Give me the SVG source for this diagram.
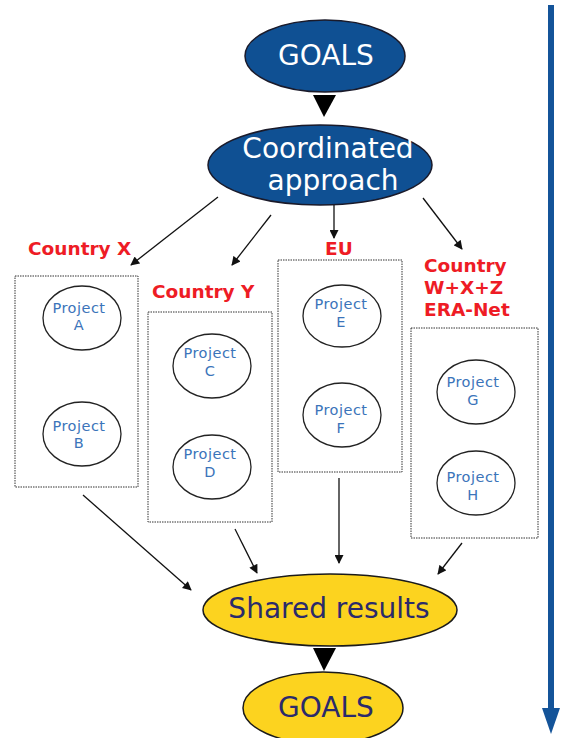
<svg xmlns="http://www.w3.org/2000/svg" width="561" height="738" viewBox="0 0 561 738">
<style>
.blue{fill:#0f5093;stroke:#1a1a2a;stroke-width:1.5}
.yel{fill:#fcd31f;stroke:#1a1a1a;stroke-width:1.5}
.big{font-family:"DejaVu Sans",Verdana,sans-serif;font-size:28px;text-anchor:middle}
.wt{fill:#ffffff}
.nv{fill:#2b2a6b}
.box{fill:#ffffff;stroke:#333;stroke-width:1;stroke-dasharray:1.5 1}
.proj{fill:#ffffff;stroke:#222;stroke-width:1.3}
.pt{font-family:"DejaVu Sans",Verdana,sans-serif;font-size:14.5px;letter-spacing:0.5px;fill:#3b74ba;text-anchor:middle}
.lbl{font-family:"DejaVu Sans",Verdana,sans-serif;font-size:18.5px;font-weight:bold;fill:#ee1c25}
.con{stroke:#111;stroke-width:1.3;fill:none;marker-end:url(#ah)}
</style>
<defs>
<marker id="ah" viewBox="0 0 10 10" refX="9" refY="5" markerWidth="10" markerHeight="9" markerUnits="userSpaceOnUse" orient="auto">
<path d="M0,0 L10,5 L0,10 z" fill="#111"/>
</marker>
</defs>
<rect width="561" height="738" fill="#ffffff"/>

<g id="timeline">
<rect x="548" y="5" width="6" height="706" fill="#145499"/>
<path d="M542,708 L560,708 L551,734 z" fill="#145499"/>
</g>

<g id="goals-top">
<ellipse class="blue" cx="325" cy="56" rx="80" ry="36"/>
<text class="big wt" x="326" y="65">GOALS</text>
</g>
<g id="tri1"><path d="M313,95 L336,95 L324,117 z" fill="#000"/></g>

<g id="coordinated">
<ellipse class="blue" cx="320" cy="165" rx="112" ry="40"/>
<text class="big wt" x="328" y="158">Coordinated</text>
<text class="big wt" x="333" y="190">approach</text>
</g>

<g id="country-x">
<text class="lbl" x="28" y="255">Country X</text>
<rect class="box" x="15" y="276" width="123" height="211"/>
</g>
<g id="project-a">
<ellipse class="proj" cx="82" cy="318" rx="39" ry="32"/>
<text class="pt" x="79" y="313">Project</text><text class="pt" x="79" y="330">A</text>
</g>
<g id="project-b">
<ellipse class="proj" cx="82" cy="434" rx="39" ry="32"/>
<text class="pt" x="79" y="431">Project</text><text class="pt" x="79" y="448">B</text>
</g>

<g id="country-y">
<text class="lbl" x="152" y="298">Country Y</text>
<rect class="box" x="148" y="312" width="124" height="210"/>
</g>
<g id="project-c">
<ellipse class="proj" cx="212" cy="366" rx="39" ry="32"/>
<text class="pt" x="210" y="358">Project</text><text class="pt" x="210" y="376">C</text>
</g>
<g id="project-d">
<ellipse class="proj" cx="212" cy="467" rx="39" ry="32"/>
<text class="pt" x="210" y="459">Project</text><text class="pt" x="210" y="477">D</text>
</g>

<g id="eu">
<text class="lbl" x="325" y="255">EU</text>
<rect class="box" x="278" y="260" width="124" height="212"/>
</g>
<g id="project-e">
<ellipse class="proj" cx="342" cy="316" rx="39" ry="31"/>
<text class="pt" x="341" y="309">Project</text><text class="pt" x="341" y="327">E</text>
</g>
<g id="project-f">
<ellipse class="proj" cx="342" cy="415" rx="39" ry="32"/>
<text class="pt" x="341" y="415">Project</text><text class="pt" x="341" y="433">F</text>
</g>

<g id="country-wxz">
<text class="lbl" x="424" y="272">Country</text>
<text class="lbl" x="424" y="294">W+X+Z</text>
<text class="lbl" x="424" y="316">ERA-Net</text>
<rect class="box" x="411" y="328" width="127" height="210"/>
</g>
<g id="project-g">
<ellipse class="proj" cx="476" cy="392" rx="39" ry="32"/>
<text class="pt" x="473" y="387">Project</text><text class="pt" x="473" y="405">G</text>
</g>
<g id="project-h">
<ellipse class="proj" cx="476" cy="483" rx="39" ry="32"/>
<text class="pt" x="473" y="482">Project</text><text class="pt" x="473" y="500">H</text>
</g>

<g id="shared">
<ellipse class="yel" cx="330" cy="610" rx="127" ry="36"/>
<text class="big nv" x="329" y="618">Shared results</text>
</g>
<g id="tri2"><path d="M313,648 L336,648 L324,671 z" fill="#000"/></g>
<g id="goals-bottom">
<ellipse class="yel" cx="323" cy="708" rx="80" ry="36"/>
<text class="big nv" x="326" y="717">GOALS</text>
</g>

<g id="connectors">
<line class="con" x1="218" y1="197" x2="131" y2="265"/>
<line class="con" x1="271" y1="215" x2="232" y2="265"/>
<line class="con" x1="334" y1="205" x2="334" y2="238"/>
<line class="con" x1="423" y1="198" x2="462" y2="249"/>
<line class="con" x1="83" y1="495" x2="191" y2="590"/>
<line class="con" x1="235" y1="529" x2="257" y2="573"/>
<line class="con" x1="339" y1="478" x2="339" y2="563"/>
<line class="con" x1="462" y1="543" x2="438" y2="574"/>
</g>
</svg>
